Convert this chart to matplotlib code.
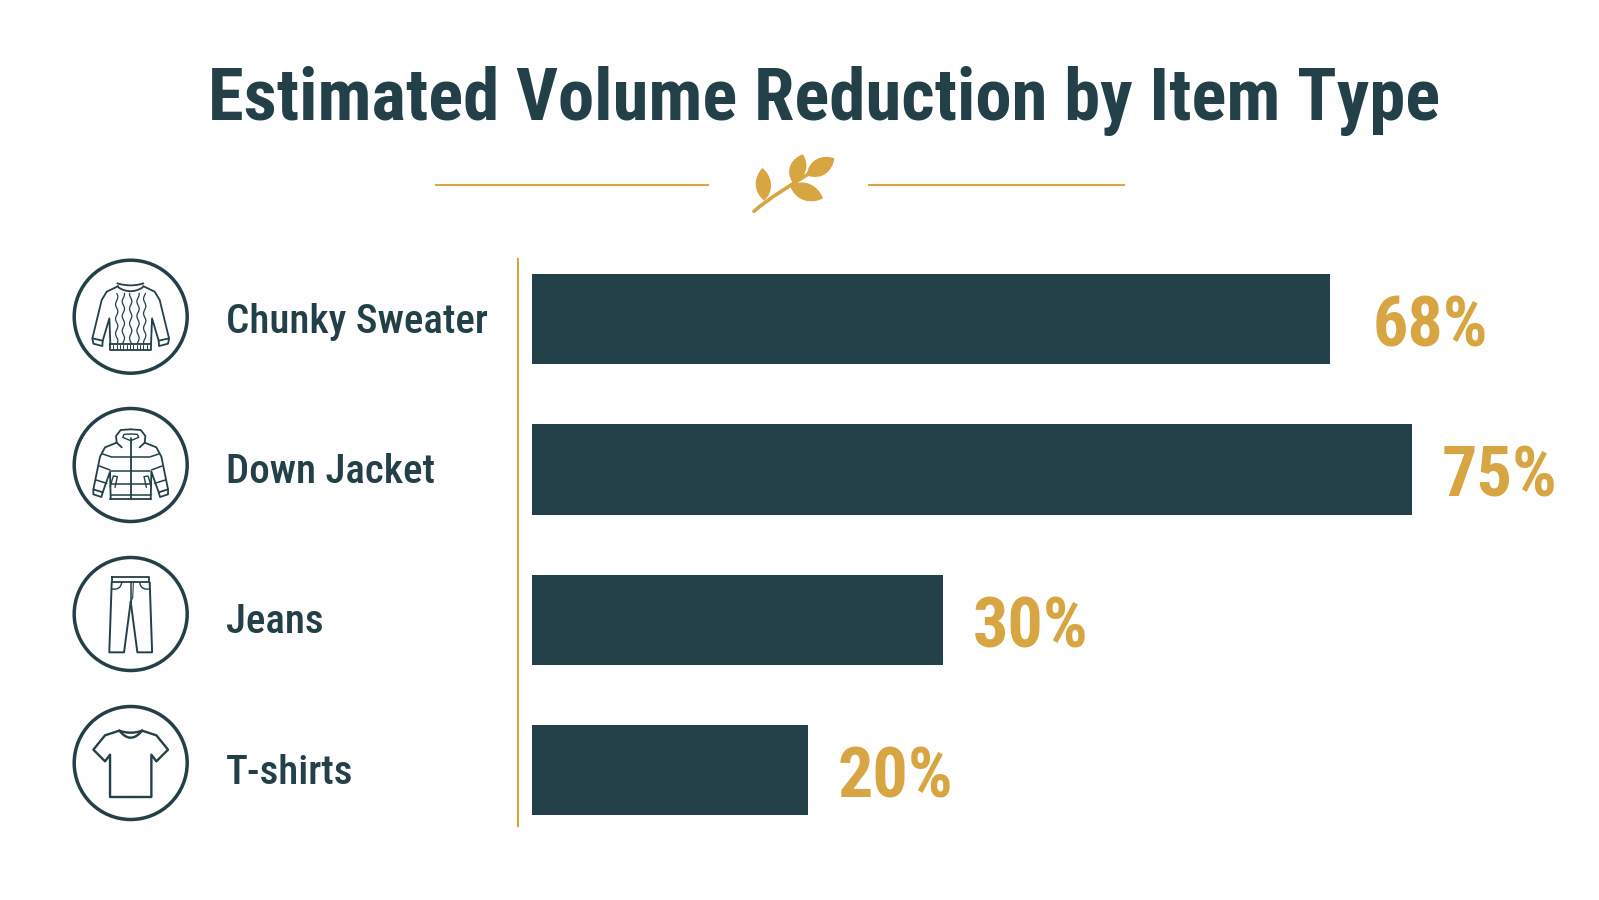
import numpy as np
import matplotlib
matplotlib.use('Agg')
import matplotlib.pyplot as plt
from matplotlib.patches import Circle, PathPatch
from matplotlib.path import Path
from matplotlib.transforms import ScaledTranslation

categories = ['Chunky Sweater', 'Down Jacket', 'Jeans', 'T-shirts']
percents = [68, 75, 30, 20]
# the picture does not draw its bars to one scale, so lengths are read separately
bar_lengths = [68, 75, 35, 23.5]

DARK = '#233f47'
GOLD = '#d7a542'
BG = '#fefefe'
COND = 'Roboto Condensed'
W, H = 1599, 900

fig = plt.figure(figsize=(W / 100, H / 100), dpi=100, facecolor=BG)

# pixel overlay for the decoration
deco = fig.add_axes([0, 0, 1, 1], zorder=1)
deco.set_xlim(0, W)
deco.set_ylim(H, 0)
deco.axis('off')

# bars
ax = fig.add_axes([518 / W, 1 - 826 / H, (W - 518) / W, (826 - 259) / H], zorder=2)
ax.patch.set_alpha(0)
ax.set_xlim(-14 / 11.73, (W - 532) / 11.73)
ax.set_ylim(3.37, -0.4)
ax.barh(range(4), bar_lengths, height=0.6, color=DARK)
for s in ['top', 'right', 'bottom']:
    ax.spines[s].set_visible(False)
ax.spines['left'].set_color(GOLD)
ax.spines['left'].set_linewidth(1.5)
ax.set_xticks([])
ax.set_yticks(range(4), categories)
ax.tick_params(axis='y', length=0, pad=(518 - 226) * 0.72)
nudge = ScaledTranslation(0, 1.5 / 100, fig.dpi_scale_trans)
for t in ax.get_yticklabels():
    t.set_ha('left')
    t.set_family(COND)
    t.set_fontsize(29.5)
    t.set_fontweight('medium')
    t.set_color(DARK)
    t.set_transform(t.get_transform() + nudge)

gaps = [43, 30, 30, 30]
for i, (v, l) in enumerate(zip(percents, bar_lengths)):
    ax.annotate(f'{v}%', (l, i), xytext=(gaps[i] * 0.72, -5.5), textcoords='offset points',
                va='center', ha='left', family=COND, fontweight='bold', fontsize=50.5, color=GOLD)

deco.text(824, 101, 'Estimated Volume Reduction by Item Type', ha='center', va='center',
          family=COND, fontweight='bold', fontsize=52.4, color=DARK)

# divider
deco.plot([436, 708], [185, 185], color=GOLD, lw=1.5)
deco.plot([869, 1124], [185, 185], color=GOLD, lw=1.5)


def leaf(base, tip, width):
    base, tip = np.array(base, float), np.array(tip, float)
    d = tip - base
    n = np.array([-d[1], d[0]]) / np.hypot(*d) * width
    pts = [base, base + 0.3 * d + n, base + 0.75 * d + n * 0.8, tip,
           base + 0.75 * d - n * 0.8, base + 0.3 * d - n, base]
    codes = [Path.MOVETO] + [Path.CURVE4] * 6
    # leaf shapes are given in zoom units of the sprig crop
    pts = [(730 + p[0] / 3, 140 + p[1] / 3) for p in pts]
    deco.add_patch(PathPatch(Path(pts, codes), fc=GOLD, ec='none'))


leaf((103, 182), (97, 84), 34)
leaf((188, 128), (219, 43), 36)
leaf((230, 106), (313, 55), 38)
leaf((180, 137), (279, 175), 38)
stem = np.array([(72, 214), (120, 172), (185, 134), (235, 102)]) / 3 + (730, 140)
deco.add_patch(PathPatch(Path(stem, [Path.MOVETO, Path.CURVE4, Path.CURVE4, Path.CURVE4]),
                         fc='none', ec=GOLD, lw=2.6, capstyle='round'))


# icons, drawn in zoom units (1/3 px) around each circle centre
class Icon:
    def __init__(self, cx, cy, zx, zy):
        self.cx, self.cy, self.zx, self.zy = cx, cy, zx, zy
        deco.add_patch(Circle((cx, cy), 56.5, fc='none', ec=DARK, lw=2.5))

    def line(self, pts, lw=1.5, closed=False):
        pts = list(pts)
        if closed:
            pts.append(pts[0])
        x = [self.cx + (p[0] - self.zx) / 3 for p in pts]
        y = [self.cy + (p[1] - self.zy) / 3 for p in pts]
        deco.plot(x, y, color=DARK, lw=lw, solid_capstyle='round', solid_joinstyle='round')

    def both(self, pts, lw=1.5, closed=False):
        self.line(pts, lw, closed)
        self.line([(2 * self.zx - x, y) for x, y in pts], lw, closed)

    def curve(self, a, c, b, lw=1.5):
        t = np.linspace(0, 1, 20)
        a, c, b = map(np.array, (a, c, b))
        self.line(((1 - t)[:, None] ** 2 * a + 2 * (t * (1 - t))[:, None] * c + t[:, None] ** 2 * b), lw)


# sweater
s = Icon(130.7, 316.7, 212, 200)
s.both([(175, 108), (140, 125), (125, 150), (97, 265), (128, 272), (148, 205), (151, 283)], lw=1.3)
s.both([(97, 265), (100, 281), (127, 288), (128, 272)], lw=1.3)
s.curve((172, 100), (212, 112), (250, 100), lw=1.3)
s.curve((175, 112), (212, 135), (248, 112), lw=1.3)
s.line([(150, 283), (272, 283), (272, 300), (150, 300)], lw=1.3, closed=True)
for x in np.arange(160, 270, 10):
    s.line([(x, 285), (x, 298)], lw=0.7)
for x0 in [170, 190, 212, 234, 254]:
    y = np.linspace(130, 280, 40)
    s.line(np.c_[x0 + 3.5 * np.sin(y / 7 + x0), y], lw=0.9)

# jacket
j = Icon(130.7, 465, 212, 645)
j.both([(212, 538), (182, 540), (168, 558), (170, 578), (185, 592)], lw=1.3)
j.both([(212, 552), (192, 553), (188, 562), (212, 572)], lw=1.0)
j.both([(170, 578), (135, 592), (120, 620), (100, 718), (128, 727), (150, 665), (152, 748)], lw=1.3)
j.both([(100, 718), (100, 733), (124, 741), (128, 727)], lw=1.3)
j.line([(212, 565), (212, 748)], lw=1.3)
j.line([(152, 735), (272, 735)], lw=1.1)
j.line([(150, 748), (274, 748)], lw=1.3)
for y in [622, 663, 702]:
    j.line([(154, y), (270, y)], lw=1.1)
for a, b in [((128, 612), (152, 620)), ((118, 648), (150, 660)), ((108, 690), (140, 700))]:
    j.both([a, b], lw=1.1)
j.both([(150, 710), (160, 678), (172, 680), (165, 712)], lw=1.0)

# jeans
p = Icon(130.7, 614, 212, 207)
p.line([(155, 97), (268, 97), (268, 112), (155, 112)], lw=1.3, closed=True)
p.both([(155, 112), (148, 315), (148, 322), (192, 322), (212, 170)], lw=1.4)
p.line([(212, 112), (212, 170)], lw=1.1)
p.line([(220, 112), (218, 158), (212, 170)], lw=0.8)
p.curve((157, 132), (182, 135), (185, 112), lw=1.0)
p.curve((267, 132), (242, 135), (239, 112), lw=1.0)

# t-shirt
t = Icon(130.7, 763, 212, 655)
t.both([(178, 558), (135, 572), (100, 615), (135, 650), (150, 630), (150, 757), (212, 757)], lw=1.7)
t.curve((178, 558), (212, 600), (246, 558), lw=1.7)
t.curve((178, 558), (212, 570), (246, 558), lw=1.7)

fig.savefig('out.png', dpi=100, facecolor=BG)
